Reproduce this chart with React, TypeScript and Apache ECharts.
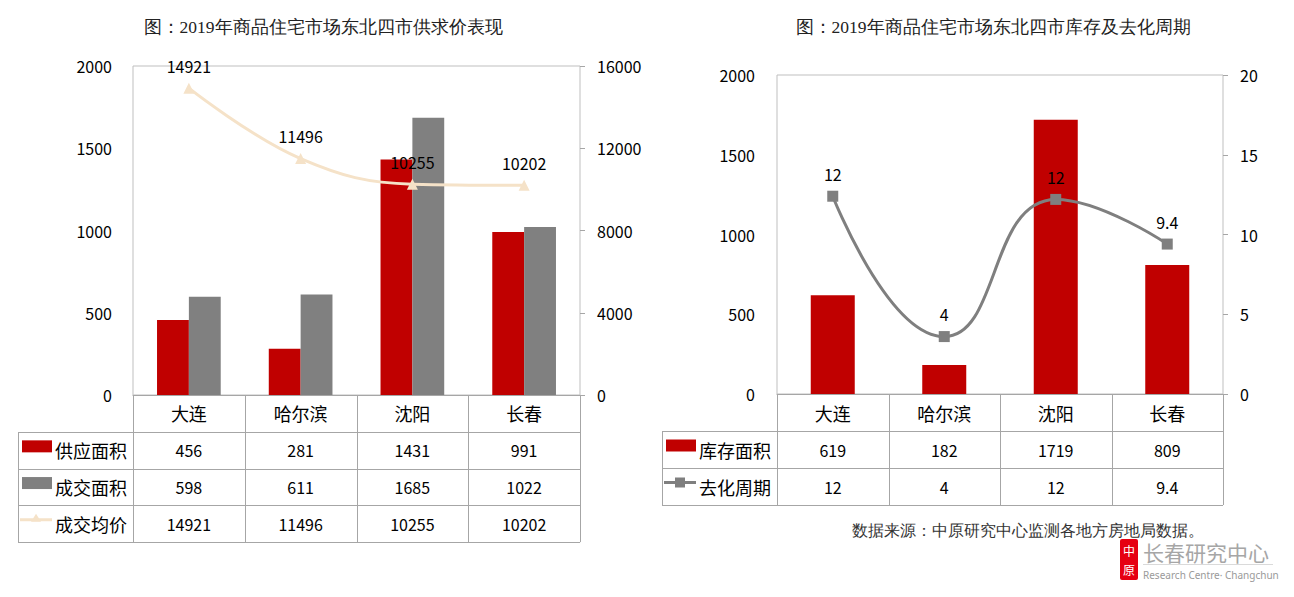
import React, { useEffect, useRef } from "react";
import * as echarts from "echarts";

const categories = ["大连", "哈尔滨", "沈阳", "长春"];
const supplyArea = [456, 281, 1431, 991];
const dealArea = [598, 611, 1685, 1022];
const avgPrice = [14921, 11496, 10255, 10202];
const stockArea = [619, 182, 1719, 809];
const cycle = [12.4, 3.6, 12.2, 9.4];
const cycleLabels = ["12", "4", "12", "9.4"];

const seriesNames = ["供应面积", "成交面积", "成交均价", "库存面积", "去化周期"];
const titles = ["图：2019年商品住宅市场东北四市供求价表现", "图：2019年商品住宅市场东北四市库存及去化周期"];
const note = "数据来源：中原研究中心监测各地方房地局数据。";

const RED = "#c00000";
const GRAY = "#808080";
const BEIGE = "#f5e2c8";
const LINEGRAY = "#7f7f7f";
const TABLE = "#a6a6a6";
const CJK = "'Noto Sans CJK SC', 'Noto Sans', sans-serif";

type Row = { name: string; values: (string | number)[]; icon: "bar" | "tri" | "sq"; color: string };

function buildTable(
  gridLeft: number,
  gridRight: number,
  axisY: number,
  legendX: number,
  headerH: number,
  rowH: number,
  rows: Row[]
) {
  const els: any[] = [];
  const colW = (gridRight - gridLeft) / categories.length;
  const headerBottom = axisY + headerH;
  const bottom = headerBottom + rowH * rows.length;
  const ls = { stroke: TABLE, lineWidth: 1 };
  els.push({ type: "line", shape: { x1: legendX, y1: headerBottom + 0.5, x2: gridRight, y2: headerBottom + 0.5 }, style: ls, silent: true });
  rows.forEach((_, i) => {
    const y = Math.round(headerBottom + rowH * (i + 1)) + 0.5;
    els.push({ type: "line", shape: { x1: legendX, y1: y, x2: gridRight, y2: y }, style: ls, silent: true });
  });
  els.push({ type: "line", shape: { x1: legendX + 0.5, y1: headerBottom, x2: legendX + 0.5, y2: bottom }, style: ls, silent: true });
  for (let i = 0; i <= categories.length; i++) {
    const x = Math.round(gridLeft + colW * i) + 0.5;
    els.push({ type: "line", shape: { x1: x, y1: axisY, x2: x, y2: bottom }, style: ls, silent: true });
  }
  rows.forEach((row, r) => {
    const cy = headerBottom + rowH * r + rowH / 2;
    if (row.icon === "bar") {
      els.push({ type: "rect", shape: { x: legendX + 4, y: cy - 10, width: 30, height: 12 }, style: { fill: row.color }, silent: true });
    } else if (row.icon === "tri") {
      els.push({ type: "line", shape: { x1: legendX + 2, y1: cy - 4, x2: legendX + 34, y2: cy - 4 }, style: { stroke: row.color, lineWidth: 3 }, silent: true });
      els.push({ type: "polygon", shape: { points: [[legendX + 18, cy - 10], [legendX + 23, cy - 2], [legendX + 13, cy - 2]] }, style: { fill: row.color }, silent: true });
    } else {
      els.push({ type: "line", shape: { x1: legendX + 2, y1: cy - 4, x2: legendX + 34, y2: cy - 4 }, style: { stroke: row.color, lineWidth: 3 }, silent: true });
      els.push({ type: "rect", shape: { x: legendX + 13, y: cy - 9, width: 10, height: 10 }, style: { fill: row.color }, silent: true });
    }
    els.push({
      type: "text",
      x: legendX + 37,
      y: cy,
      style: { text: row.name, fontSize: 18, fontFamily: CJK, fill: "#000", align: "left", verticalAlign: "middle" },
      silent: true,
    });
    row.values.forEach((v, c) => {
      els.push({
        type: "text",
        x: gridLeft + colW * c + colW / 2,
        y: cy,
        style: { text: String(v), fontSize: 16, fontFamily: CJK, fill: "#000", align: "center", verticalAlign: "middle" },
        silent: true,
      });
    });
  });
  return els;
}

export default function App() {
  const ref = useRef<HTMLDivElement>(null);
  useEffect(() => {
    if (!ref.current) return;
    const chart = echarts.init(ref.current, undefined, { renderer: "svg" });

    const g1 = { left: 133, top: 66, width: 447, height: 329 };
    const g2 = { left: 777, top: 75, width: 446, height: 319 };

    const axisLabelBase = { color: "#000", fontSize: 16, fontFamily: CJK, formatter: (v: number) => String(v) };

    const graphics: any[] = [
      {
        type: "text",
        x: 323,
        y: 27,
        style: { text: titles[0], fontSize: 17.5, fontFamily: "serif", fill: "#222", align: "center", verticalAlign: "middle" },
      },
      {
        type: "text",
        x: 993,
        y: 27,
        style: { text: titles[1], fontSize: 17.5, fontFamily: "serif", fill: "#222", align: "center", verticalAlign: "middle" },
      },
      ...buildTable(g1.left, g1.left + g1.width, g1.top + g1.height, 18, 37, 36.7, [
        { name: seriesNames[0], values: supplyArea, icon: "bar", color: RED },
        { name: seriesNames[1], values: dealArea, icon: "bar", color: GRAY },
        { name: seriesNames[2], values: avgPrice, icon: "tri", color: BEIGE },
      ]),
      ...buildTable(g2.left, g2.left + g2.width, g2.top + g2.height, 662, 37, 37, [
        { name: seriesNames[3], values: stockArea, icon: "bar", color: RED },
        { name: seriesNames[4], values: cycleLabels, icon: "sq", color: LINEGRAY },
      ]),
      {
        type: "text",
        x: 852,
        y: 530,
        style: { text: note, fontSize: 15.5, fontFamily: "serif", fill: "#333", align: "left", verticalAlign: "middle" },
      },
      { type: "rect", shape: { x: 1120, y: 539, width: 18, height: 41, r: 2 }, style: { fill: "#e60012" } },
      { type: "text", x: 1129, y: 550, style: { text: "中", fontSize: 12, fontFamily: CJK, fill: "#fff", align: "center", verticalAlign: "middle" } },
      { type: "text", x: 1129, y: 569, style: { text: "原", fontSize: 12, fontFamily: CJK, fill: "#fff", align: "center", verticalAlign: "middle" } },
      { type: "text", x: 1143, y: 552, style: { text: "长春研究中心", fontSize: 21, fontFamily: CJK, fill: "#a6a6a6", align: "left", verticalAlign: "middle" } },
      { type: "line", shape: { x1: 1143, y1: 564.5, x2: 1273, y2: 564.5 }, style: { stroke: "#dadada", lineWidth: 1 } },
      { type: "text", x: 1143, y: 575, style: { text: "Research Centre· Changchun", fontSize: 10, fontFamily: "'Noto Sans', sans-serif", fill: "#9a9a9a", align: "left", verticalAlign: "middle" } },
    ];

    chart.setOption({
      animation: false,
      backgroundColor: "#fff",
      grid: [
        { ...g1, show: true, borderColor: "#bfbfbf", borderWidth: 1, backgroundColor: "transparent" },
        { ...g2, show: true, borderColor: "#bfbfbf", borderWidth: 1, backgroundColor: "transparent" },
      ],
      xAxis: [
        {
          type: "category",
          gridIndex: 0,
          data: categories,
          axisLine: { lineStyle: { color: TABLE } },
          axisTick: { show: false },
          axisLabel: { color: "#000", fontSize: 18, fontFamily: CJK, margin: 9 },
        },
        {
          type: "category",
          gridIndex: 1,
          data: categories,
          axisLine: { lineStyle: { color: TABLE } },
          axisTick: { show: false },
          axisLabel: { color: "#000", fontSize: 18, fontFamily: CJK, margin: 10 },
        },
      ],
      yAxis: [
        {
          type: "value",
          gridIndex: 0,
          position: "left",
          min: 0,
          max: 2000,
          interval: 500,
          axisLine: { show: false },
          axisTick: { show: false },
          splitLine: { show: false },
          axisLabel: { ...axisLabelBase, margin: 21 },
        },
        {
          type: "value",
          gridIndex: 0,
          position: "right",
          min: 0,
          max: 16000,
          interval: 4000,
          axisLine: { show: false },
          axisTick: { show: true, length: 5, lineStyle: { color: "#a6a6a6" } },
          splitLine: { show: false },
          axisLabel: { ...axisLabelBase, margin: 17 },
        },
        {
          type: "value",
          gridIndex: 1,
          position: "left",
          min: 0,
          max: 2000,
          interval: 500,
          axisLine: { show: false },
          axisTick: { show: false },
          splitLine: { show: false },
          axisLabel: { ...axisLabelBase, margin: 22 },
        },
        {
          type: "value",
          gridIndex: 1,
          position: "right",
          min: 0,
          max: 20,
          interval: 5,
          axisLine: { show: false },
          axisTick: { show: true, length: 5, lineStyle: { color: "#a6a6a6" } },
          splitLine: { show: false },
          axisLabel: { ...axisLabelBase, margin: 17 },
        },
      ],
      series: [
        {
          name: seriesNames[0],
          type: "bar",
          xAxisIndex: 0,
          yAxisIndex: 0,
          data: supplyArea,
          itemStyle: { color: RED },
          barGap: "0%",
          barCategoryGap: "43%",
        },
        {
          name: seriesNames[1],
          type: "bar",
          xAxisIndex: 0,
          yAxisIndex: 0,
          data: dealArea,
          itemStyle: { color: GRAY },
          barGap: "0%",
          barCategoryGap: "43%",
        },
        {
          name: seriesNames[2],
          type: "line",
          xAxisIndex: 0,
          yAxisIndex: 1,
          data: avgPrice,
          smooth: 0.4,
          symbol: "triangle",
          symbolSize: 11,
          lineStyle: { color: BEIGE, width: 3 },
          itemStyle: { color: BEIGE },
          label: { show: true, position: "top", distance: 9, color: "#000", fontSize: 16, fontFamily: CJK },
          z: 5,
        },
        {
          name: seriesNames[3],
          type: "bar",
          xAxisIndex: 1,
          yAxisIndex: 2,
          data: stockArea,
          itemStyle: { color: RED },
          barWidth: 44,
        },
        {
          name: seriesNames[4],
          type: "line",
          xAxisIndex: 1,
          yAxisIndex: 3,
          data: cycle,
          smooth: 0.5,
          symbol: "rect",
          symbolSize: 11,
          lineStyle: { color: LINEGRAY, width: 3 },
          itemStyle: { color: LINEGRAY },
          label: {
            show: true,
            position: "top",
            distance: 9,
            color: "#000",
            fontSize: 16,
            fontFamily: CJK,
            formatter: (p: any) => cycleLabels[p.dataIndex],
          },
          z: 5,
        },
      ],
      graphic: graphics,
    });
    return () => chart.dispose();
  }, []);

  return (
    <div
      ref={ref}
      style={{ position: "absolute", left: 0, top: 0, width: 1294, height: 597, background: "#fff" }}
    />
  );
}
